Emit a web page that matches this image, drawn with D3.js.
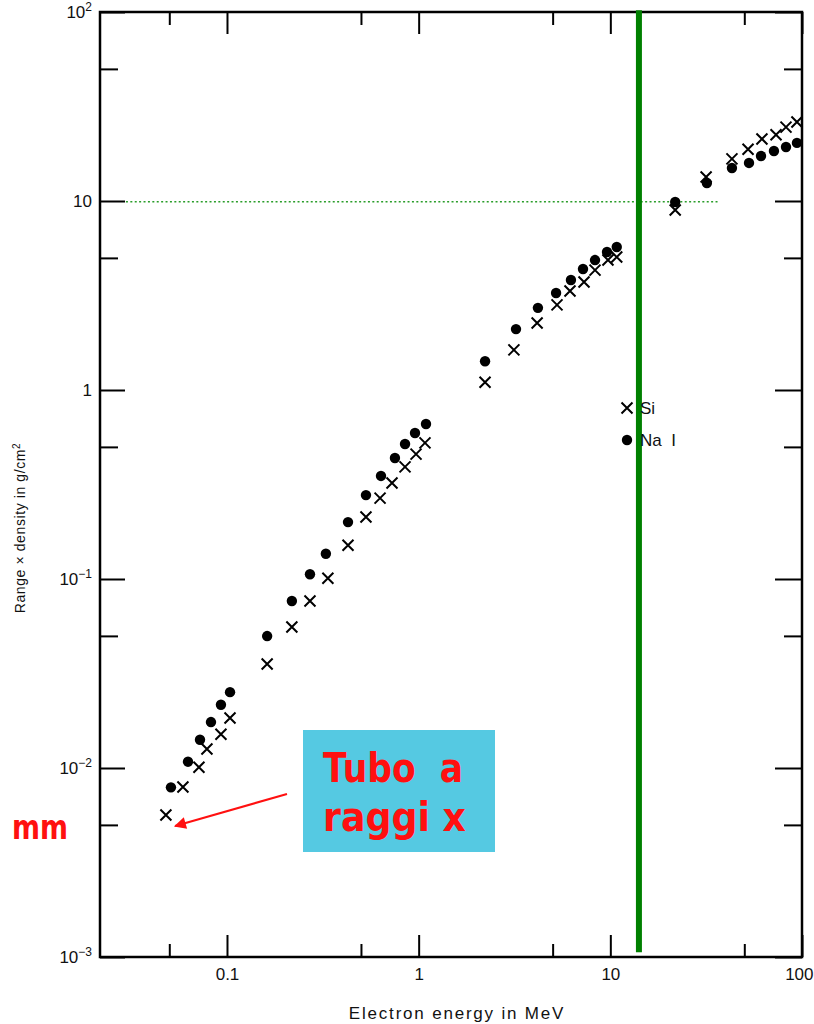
<!DOCTYPE html>
<html>
<head>
<meta charset="utf-8">
<script src="https://cdn.jsdelivr.net/npm/d3@7"></script>
<style>
  body { margin: 0; background: #fff; }
  text { font-family: "Liberation Sans", Arial, Helvetica, sans-serif; }
</style>
</head>
<body>
<div id="chart"></div>
<script>
// Na I (dots) and Si (crosses): electron energy (MeV) vs range x density (g/cm2)
var naiEnergy = [0.051, 0.0626, 0.0723, 0.0825, 0.093, 0.1037, 0.162, 0.218, 0.271, 0.328, 0.428, 0.531,
                 0.636, 0.752, 0.849, 0.957, 1.092, 2.22, 3.22, 4.19, 5.21, 6.23, 7.2, 8.32, 9.61, 10.8,
                 21.8, 31.9, 43.1, 52.9, 61.1, 71.4, 82.5, 94.1];
var naiRange = [0.0079, 0.0108, 0.0141, 0.0175, 0.0216, 0.0252, 0.0499, 0.0765, 0.106, 0.136, 0.200, 0.278,
                0.351, 0.437, 0.518, 0.592, 0.661, 1.42, 2.10, 2.72, 3.26, 3.82, 4.37, 4.87, 5.37, 5.71,
                9.88, 12.45, 14.95, 15.9, 17.3, 18.4, 19.3, 20.3];

var siEnergy = [0.048, 0.0589, 0.0714, 0.0786, 0.093, 0.1037, 0.162, 0.218, 0.271, 0.336, 0.428, 0.531,
                0.629, 0.726, 0.849, 0.969, 1.079, 2.22, 3.14, 4.15, 5.27, 6.16, 7.29, 8.32, 9.72, 10.8,
                21.8, 31.6, 43.1, 52.3, 61.8, 73.2, 82.5, 94.1];
var siRange = [0.00564, 0.00793, 0.0101, 0.0126, 0.0151, 0.0184, 0.0355, 0.0557, 0.0765, 0.101, 0.151, 0.213,
               0.268, 0.322, 0.392, 0.458, 0.525, 1.10, 1.63, 2.26, 2.82, 3.34, 3.73, 4.31, 4.87, 5.05,
               8.96, 13.4, 16.7, 18.8, 21.3, 22.4, 24.6, 26.2];

// ticks
var xMajorTicks = [0.1, 1, 10, 100];
var xMinorTicks = [0.05, 0.5, 5, 50];
var xTickLabels = ["0.1", "1", "10", "100"];
var yMajorTicks = [1e-3, 1e-2, 1e-1, 1, 10, 100];
var yMinorTicks = [5e-3, 5e-2, 0.5, 5, 50];
var yTickLabels = [["10", "\u22123"], ["10", "\u22122"], ["10", "\u22121"], ["1", ""], ["10", ""], ["10", "2"]];

// green overlays
var greenEnergy = 14.1, greenRange = [1.06e-3, 102];
var dottedRange = 9.9, dottedEnergy = [0.0297, 37.3];

// arrow pointing at the x-ray tube region
var arrowTail = [0.2056, 0.00729], arrowTip = [0.0536, 0.00493];

var margin = { top: 12, right: 12, bottom: 67, left: 100 },
    width = 814 - margin.left - margin.right,
    height = 1024 - margin.top - margin.bottom;

var svg = d3.select("#chart")
    .append("svg")
    .attr("width", 814)
    .attr("height", 1024);

var defs = svg.append("defs");
defs.append("marker")
    .attr("id", "arrowhead")
    .attr("viewBox", "0 0 10 10")
    .attr("refX", 9)
    .attr("refY", 5)
    .attr("markerWidth", 7.5)
    .attr("markerHeight", 6)
    .attr("markerUnits", "strokeWidth")
    .attr("orient", "auto")
    .append("path")
    .attr("d", "M0,0L10,5L0,10z")
    .attr("fill", "#ff1010");

var g = svg.append("g")
    .attr("transform", "translate(" + margin.left + "," + margin.top + ")");

var x = d3.scaleLog().domain([0.02175, 100]).range([0, width]);
var y = d3.scaleLog().domain([1e-3, 100]).range([height, 0]);

function styleAxis(sel) {
    sel.select(".domain").remove();
    sel.selectAll(".tick line").attr("stroke", "#000").attr("stroke-width", 2);
    sel.selectAll(".tick text").attr("fill", "#111").style("font-size", "17px")
        .style("font-family", "'Liberation Sans', Arial, sans-serif");
}

// bottom
var bottomAxis = g.append("g")
    .attr("transform", "translate(0," + height + ")")
    .call(d3.axisBottom(x).tickValues(xMajorTicks).tickSizeInner(-22).tickSizeOuter(0).tickPadding(11)
        .tickFormat(function(d, i) { return xTickLabels[i]; }))
    .call(styleAxis);
// last label sits against the right edge of the page
bottomAxis.selectAll(".tick text").filter(function(d) { return d === 100; })
    .attr("text-anchor", "end")
    .attr("dx", 11);
g.append("g")
    .attr("transform", "translate(0," + height + ")")
    .call(d3.axisBottom(x).tickValues(xMinorTicks).tickSizeInner(-13).tickSizeOuter(0).tickFormat(""))
    .call(styleAxis);

// top
g.append("g")
    .call(d3.axisTop(x).tickValues(xMajorTicks).tickSizeInner(-22).tickSizeOuter(0).tickFormat(""))
    .call(styleAxis);
g.append("g")
    .call(d3.axisTop(x).tickValues(xMinorTicks).tickSizeInner(-13).tickSizeOuter(0).tickFormat(""))
    .call(styleAxis);

// left
var leftAxis = g.append("g")
    .call(d3.axisLeft(y).tickValues(yMajorTicks).tickSizeInner(-25).tickSizeOuter(0).tickPadding(8))
    .call(styleAxis);
leftAxis.selectAll(".tick text").each(function(d, i) {
    var t = d3.select(this);
    t.text(yTickLabels[i][0]);
    if (yTickLabels[i][1]) {
        t.append("tspan").attr("dy", "-0.55em").style("font-size", "12px").text(yTickLabels[i][1]);
    }
});
g.append("g")
    .call(d3.axisLeft(y).tickValues(yMinorTicks).tickSizeInner(-18).tickSizeOuter(0).tickFormat(""))
    .call(styleAxis);

// right
g.append("g")
    .attr("transform", "translate(" + width + ",0)")
    .call(d3.axisRight(y).tickValues(yMajorTicks).tickSizeInner(-27).tickSizeOuter(0).tickFormat(""))
    .call(styleAxis);
g.append("g")
    .attr("transform", "translate(" + width + ",0)")
    .call(d3.axisRight(y).tickValues(yMinorTicks).tickSizeInner(-18).tickSizeOuter(0).tickFormat(""))
    .call(styleAxis);

// frame
g.append("rect")
    .attr("width", width)
    .attr("height", height)
    .attr("fill", "none")
    .attr("stroke", "#000")
    .attr("stroke-width", 2.5);

// axis titles
svg.append("text")
    .attr("x", margin.left + 357)
    .attr("y", 1019)
    .attr("text-anchor", "middle")
    .style("font-size", "17px")
    .style("letter-spacing", "1.8px")
    .attr("fill", "#111")
    .text("Electron energy in MeV");

var yTitle = svg.append("text")
    .attr("transform", "translate(25,528) rotate(-90)")
    .attr("text-anchor", "middle")
    .style("font-size", "14px")
    .style("letter-spacing", "0.6px")
    .attr("fill", "#111")
    .text("Range \u00d7 density in g/cm");
yTitle.append("tspan").attr("dy", "-0.5em").style("font-size", "10px").text("2");

// green dotted horizontal line
g.append("line")
    .attr("x1", x(dottedEnergy[0]))
    .attr("x2", x(dottedEnergy[1]))
    .attr("y1", y(dottedRange))
    .attr("y2", y(dottedRange))
    .attr("stroke", "#2a9d2a")
    .attr("stroke-width", 1.6)
    .attr("stroke-dasharray", "2,2.4");

// Na I dots
g.selectAll(".nai")
    .data(naiEnergy)
    .enter()
    .append("circle")
    .attr("class", "nai")
    .attr("cx", function(d) { return x(d); })
    .attr("cy", function(d, i) { return y(naiRange[i]); })
    .attr("r", 5.2)
    .attr("fill", "#000");

// Si crosses
g.selectAll(".si")
    .data(siEnergy)
    .enter()
    .append("path")
    .attr("class", "si")
    .attr("transform", function(d, i) { return "translate(" + x(d) + "," + y(siRange[i]) + ")"; })
    .attr("d", "M-5.5,-5.5L5.5,5.5M-5.5,5.5L5.5,-5.5")
    .attr("stroke", "#000")
    .attr("stroke-width", 2)
    .attr("fill", "none");

// green vertical line
g.append("line")
    .attr("x1", x(greenEnergy))
    .attr("x2", x(greenEnergy))
    .attr("y1", y(greenRange[0]))
    .attr("y2", y(greenRange[1]))
    .attr("stroke", "#008000")
    .attr("stroke-width", 6);

// legend
var legend = g.append("g").attr("transform", "translate(527,396)");
legend.append("path")
    .attr("d", "M-5.5,-5.5L5.5,5.5M-5.5,5.5L5.5,-5.5")
    .attr("stroke", "#000")
    .attr("stroke-width", 2);
legend.append("text")
    .attr("x", 13)
    .attr("y", 6)
    .style("font-size", "17px")
    .attr("fill", "#111")
    .text("Si");
legend.append("circle")
    .attr("cy", 32)
    .attr("r", 5.2)
    .attr("fill", "#000");
legend.append("text")
    .attr("x", 13)
    .attr("y", 38)
    .style("font-size", "17px")
    .style("white-space", "pre")
    .attr("fill", "#111")
    .text("Na  I");

// annotation: x-ray tube
svg.append("rect")
    .attr("x", 303)
    .attr("y", 730)
    .attr("width", 192)
    .attr("height", 122)
    .attr("fill", "#55c9e2");

var redFont = "'Comic Sans MS', 'DejaVu Sans', sans-serif";
svg.append("text")
    .attr("x", 323)
    .attr("y", 782)
    .attr("textLength", 140)
    .attr("lengthAdjust", "spacingAndGlyphs")
    .style("font-family", redFont)
    .style("font-weight", "bold")
    .style("font-size", "40px")
    .style("white-space", "pre")
    .attr("fill", "#ff1010")
    .text("Tubo  a");
svg.append("text")
    .attr("x", 323)
    .attr("y", 831)
    .attr("textLength", 143)
    .attr("lengthAdjust", "spacingAndGlyphs")
    .style("font-family", redFont)
    .style("font-weight", "bold")
    .style("font-size", "40px")
    .style("white-space", "pre")
    .attr("fill", "#ff1010")
    .text("raggi x");

svg.append("text")
    .attr("x", 12)
    .attr("y", 839)
    .attr("textLength", 56)
    .attr("lengthAdjust", "spacingAndGlyphs")
    .style("font-family", redFont)
    .style("font-weight", "bold")
    .style("font-size", "34px")
    .attr("fill", "#ff1010")
    .text("mm");

g.append("line")
    .attr("x1", x(arrowTail[0]))
    .attr("y1", y(arrowTail[1]))
    .attr("x2", x(arrowTip[0]))
    .attr("y2", y(arrowTip[1]))
    .attr("stroke", "#ff1010")
    .attr("stroke-width", 2)
    .attr("marker-end", "url(#arrowhead)");
</script>
</body>
</html>
